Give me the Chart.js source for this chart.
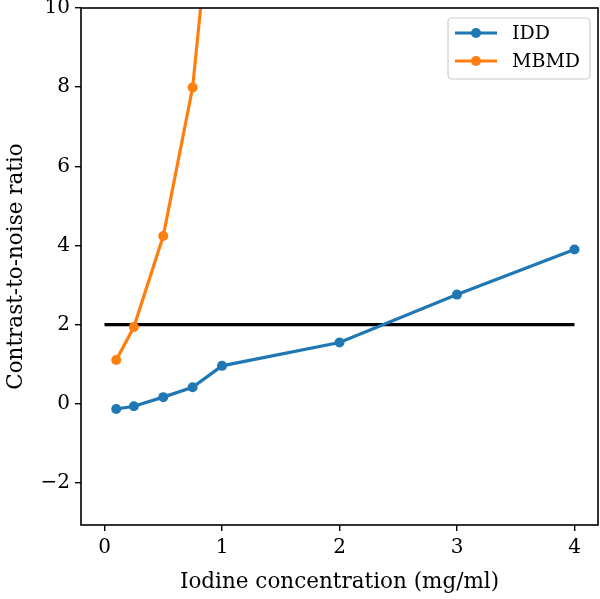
<!DOCTYPE html>
<html>
<head>
<meta charset="utf-8">
<script src="https://cdn.jsdelivr.net/npm/chart.js@4"></script>
<style>
  html, body { margin: 0; padding: 0; background: #fff; }
  #wrap { width: 600px; height: 599px; }
</style>
</head>
<body>
<div id="wrap"><canvas id="chart" width="600" height="599"></canvas></div>
<script>
// values
const conc_idd = [0.1, 0.25, 0.5, 0.75, 1, 2, 3, 4];
const cnr_idd = [-0.13, -0.06, 0.17, 0.42, 0.96, 1.55, 2.76, 3.9];
const conc_mbmd = [0.1, 0.25, 0.5, 0.75, 1];
const cnr_mbmd = [1.11, 1.94, 4.24, 7.99, 15.4];
const threshold_x = [0, 4];
const threshold_y = [2, 2];
const x_ticks = [0, 1, 2, 3, 4];
const y_ticks = [-2, 0, 2, 4, 6, 8, 10];

const FONT = "'DejaVu Serif', 'Liberation Serif', serif";

function toPoints(xs, ys) {
    return xs.map((x, i) => ({x: x, y: ys[i]}));
}

// matplotlib style frame round the axes
const framePlugin = {
    id: 'frame',
    afterDatasetsDraw(chart) {
        const a = chart.chartArea;
        const ctx = chart.ctx;
        ctx.save();
        ctx.strokeStyle = '#000';
        ctx.lineWidth = 1.6;
        ctx.strokeRect(a.left, a.top, a.right - a.left, a.bottom - a.top);
        ctx.restore();
    }
};

// legend drawn inside the upper right corner of the plot
const innerLegend = {
    id: 'innerLegend',
    afterDraw(chart) {
        const ctx = chart.ctx;
        const a = chart.chartArea;
        const sets = chart.data.datasets.filter(d => d.label);
        const boxW = 142, boxH = 61;
        const x0 = a.right - 8 - boxW, y0 = a.top + 10;
        ctx.save();
        ctx.fillStyle = 'rgba(255,255,255,0.8)';
        ctx.strokeStyle = '#cccccc';
        ctx.lineWidth = 1.2;
        ctx.beginPath();
        ctx.roundRect(x0, y0, boxW, boxH, 4);
        ctx.fill();
        ctx.stroke();
        sets.forEach((d, i) => {
            const y = y0 + 15 + i * 28;
            ctx.strokeStyle = d.borderColor;
            ctx.lineWidth = 3.2;
            ctx.beginPath();
            ctx.moveTo(x0 + 7, y);
            ctx.lineTo(x0 + 49, y);
            ctx.stroke();
            ctx.fillStyle = d.borderColor;
            ctx.beginPath();
            ctx.arc(x0 + 28, y, 5, 0, Math.PI * 2);
            ctx.fill();
            ctx.fillStyle = '#000';
            ctx.font = "19px " + FONT;
            ctx.textBaseline = 'middle';
            ctx.fillText(d.label, x0 + 64, y + 1);
        });
        ctx.restore();
    }
};

new Chart(document.getElementById('chart'), {
    type: 'line',
    data: {
        datasets: [
            {
                label: 'IDD',
                data: toPoints(conc_idd, cnr_idd),
                borderColor: '#1f77b4',
                backgroundColor: '#1f77b4',
                borderWidth: 3.2,
                pointRadius: 5,
                pointHoverRadius: 5,
                pointBorderWidth: 0,
                tension: 0
            },
            {
                label: 'MBMD',
                data: toPoints(conc_mbmd, cnr_mbmd),
                borderColor: '#ff7f0e',
                backgroundColor: '#ff7f0e',
                borderWidth: 3.2,
                pointRadius: 5,
                pointHoverRadius: 5,
                pointBorderWidth: 0,
                tension: 0
            },
            {
                label: '',
                data: toPoints(threshold_x, threshold_y),
                borderColor: '#000',
                borderWidth: 3.2,
                pointRadius: 0,
                tension: 0
            }
        ]
    },
    options: {
        responsive: false,
        animation: false,
        layout: { autoPadding: false, padding: { top: 8, right: 2, left: 0, bottom: 0 } },
        scales: {
            x: {
                type: 'linear',
                min: -0.2,
                max: 4.2,
                afterBuildTicks(scale) { scale.ticks = x_ticks.map(v => ({value: v})); },
                afterFit(scale) {
                    scale.height = 74;
                    scale.paddingLeft = 0;
                    scale.paddingRight = 0;
                },
                border: { display: false },
                grid: { drawOnChartArea: false, drawTicks: true, tickLength: 6, color: '#000', lineWidth: 1.4 },
                ticks: {
                    color: '#000',
                    font: { family: FONT, size: 20 },
                    padding: 5,
                    maxRotation: 0
                },
                title: {
                    display: true,
                    text: 'Iodine concentration (mg/ml)',
                    color: '#000',
                    font: { family: FONT, size: 21.5 },
                    padding: { top: 3 }
                }
            },
            y: {
                min: -3.06,
                max: 10,
                afterBuildTicks(scale) { scale.ticks = y_ticks.map(v => ({value: v})); },
                afterFit(scale) {
                    scale.width = 81;
                    scale.paddingTop = 0;
                    scale.paddingBottom = 0;
                },
                border: { display: false },
                grid: { drawOnChartArea: false, drawTicks: true, tickLength: 6, color: '#000', lineWidth: 1.4 },
                ticks: {
                    color: '#000',
                    font: { family: FONT, size: 20 },
                    padding: 5,
                    callback: v => String(v).replace('-', '\u2212')
                },
                title: {
                    display: true,
                    text: 'Contrast-to-noise ratio',
                    color: '#000',
                    font: { family: FONT, size: 21.5 },
                    padding: { bottom: 1 }
                }
            }
        },
        plugins: {
            legend: { display: false },
            tooltip: { enabled: false }
        }
    },
    plugins: [framePlugin, innerLegend]
});
</script>
</body>
</html>
